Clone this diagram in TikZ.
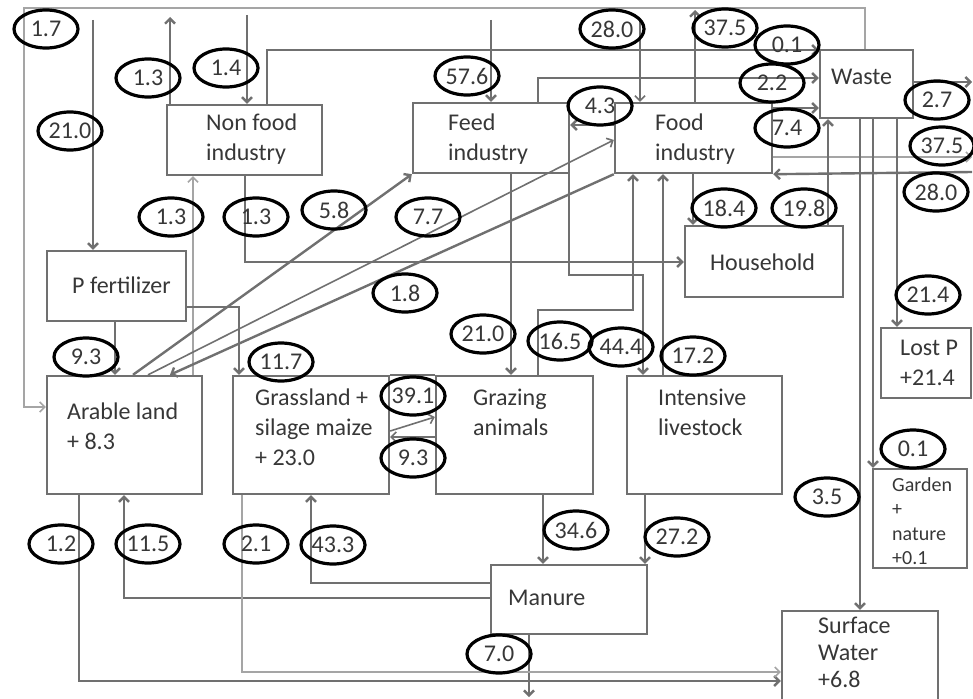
\documentclass[tikz,border=0pt]{standalone}
\usepackage{fontspec}
\setmainfont{Carlito}
\usetikzlibrary{arrows.meta,shapes.geometric}
\definecolor{lc}{RGB}{112,112,112}
\definecolor{llc}{RGB}{165,165,165}
\definecolor{tc}{RGB}{55,55,55}
\begin{document}
\begin{tikzpicture}[x=1pt,y=-1pt,
  box/.style={draw=lc,line width=2.4pt,inner sep=0pt,rectangle},
  boxline/.style={draw=lc,line width=2.4pt},
  lab/.style={ellipse,draw=black,line width=3.2pt,minimum width=64pt,minimum height=38pt,inner sep=0pt,text=tc,font=\fontsize{24}{24}\selectfont},
  txt/.style={anchor=west,align=left,inner sep=0pt,text=tc,font=\fontsize{24}{30}\selectfont},
  flow/.style={draw=lc,line width=2.4pt,-{Straight Barb[length=5pt,width=10pt]}},
  tflow/.style={draw=lc,line width=1.6pt,-{Straight Barb[length=5pt,width=10pt]}},
  lflow/.style={draw=llc,line width=1.5pt,-{Straight Barb[length=5pt,width=10pt]}}
]
\useasboundingbox (0,0) rectangle (973,698);

% boxes
\node[box,minimum width=155pt,minimum height=70pt] (nonfood) at (244.5,140) {};
\node[box,minimum width=156pt,minimum height=70pt] (feed) at (491,138) {};
\node[box,minimum width=157pt,minimum height=70pt] (food) at (693.5,138) {};
\node[box,minimum width=93pt,minimum height=68pt] (waste) at (866.5,84) {};
\node[box,minimum width=158pt,minimum height=71pt] (household) at (764,261.5) {};
\node[box,minimum width=139pt,minimum height=70pt] (pfert) at (116.5,286) {};
\node[box,minimum width=155pt,minimum height=118pt] (arable) at (124.5,435) {};
\node[box,minimum width=156pt,minimum height=118pt] (grass) at (311,435) {};
\node[box,minimum width=157pt,minimum height=118pt] (grazing) at (514.5,435) {};
\node[box,minimum width=155pt,minimum height=118pt] (intensive) at (704.5,435) {};
\node[box,minimum width=90pt,minimum height=70pt] (lostp) at (926,363) {};
\node[box,minimum width=94pt,minimum height=99pt] (garden) at (920,518.5) {};
\node[box,minimum width=156pt,minimum height=69pt] (manure) at (569,599.5) {};
\node[box,minimum width=156pt,minimum height=110pt] (surface) at (860,666) {};
\draw[boxline] (grass.north east) -- (grazing.north west);

% box texts
\node[txt] (nonfoodT) at (206,139) {Non food\\industry};
\node[txt] (feedT) at (448,139) {Feed\\industry};
\node[txt] (foodT) at (655,139) {Food\\industry};
\node[txt] (wasteT) at (831,77) {Waste};
\node[txt] (householdT) at (710,262) {Household};
\node[txt] (pfertT) at (72,285) {P fertilizer};
\node[txt] (arableT) at (67,426) {Arable land\\+ 8.3};
\node[txt] (grassT) at (255,427) {Grassland +\\silage maize\\+ 23.0};
\node[txt] (grazingT) at (473,412) {Grazing\\animals};
\node[txt] (intensiveT) at (658,412) {Intensive\\livestock};
\node[txt] (manureT) at (508,598) {Manure};
\node[txt] (lostpT) at (900,363) {Lost P\\+21.4};
\node[txt,font=\fontsize{20}{24.5}\selectfont] (gardenT) at (892,521) {Garden\\+\\nature\\+0.1};
\node[txt,font=\fontsize{24}{27}\selectfont,anchor=north west] (surfaceT) at (818,617) {Surface\\Water\\+6.8};

% free ends
\coordinate (c17) at (865,8);
\coordinate (c17b) at (24,8);
\coordinate (i210) at (93,20);
\coordinate (e13) at (170,17);
\coordinate (i14) at (247,15);
\coordinate (i576) at (491,20);
\coordinate (i280) at (640,20);
\coordinate (e375) at (695,10);
\coordinate (e27) at (972,82);
\coordinate (e375b) at (972,157);
\coordinate (i280b) at (972,172);
\coordinate (e70) at (529,697);

% connectors
\draw[lflow] (waste.north -| c17) -- (c17) -- (c17b) -- (24,407) -- (arable.west |- 0,407);
\draw[flow] (i210) -- (pfert.north -| i210);
\draw[flow] (nonfood.north -| e13) -- (e13);
\draw[flow] (i14) -- (nonfood.north -| i14);
\draw[flow] (nonfood.north -| 267,0) -- (267,50) -- (waste.west |- 0,50);
\draw[flow] (i576) -- (feed.north -| i576);
\draw[flow] (feed.north -| 538,0) -- (538,78) -- (waste.west |- 0,78);
\draw[tflow] (i280) -- (food.north -| i280);
\draw[flow] (food.west |- 0,125) -- (feed.east |- 0,125);
\draw[flow] (food.north -| e375) -- (e375);
\draw[flow] (food.east |- 0,108) -- (waste.west |- 0,108);
\draw[flow] (waste.east |- e27) -- (e27);
\draw[lflow] (food.east |- e375b) -- (e375b);
\draw[flow] (i280b) -- (food.south east);
\draw[flow] (food.south -| 693,0) -- (household.north -| 693,0);
\draw[flow] (household.north -| 828,0) -- (waste.south -| 828,0);
\draw[flow] (waste.south -| 897,0) -- (lostp.north -| 897,0);
\draw[flow] (waste.south -| 873,0) -- (garden.north -| 873,0);
\draw[flow] (waste.south -| 860,0) -- (surface.north -| 860,0);
\draw[flow] (nonfood.south -| 245,0) -- (245,262) -- (household.west |- 0,262);
\draw[lflow] (arable.north -| 193,0) -- (nonfood.south -| 193,0);
\draw[flow] (arable.north -| 133,0) -- (feed.south west);
\draw[tflow] (arable.north -| 148,0) -- (food.west |- 0,140);
\draw[flow] (food.south west) -- (arable.north -| 170,0);
\draw[flow] (pfert.south -| 115,0) -- (arable.north -| 115,0);
\draw[flow] (pfert.east |- 0,307) -- (239,307) -- (grass.north -| 239,0);
\draw[tflow] (grass.east |- 0,431) -- (grazing.west |- 0,417);
\draw[tflow] (grazing.west |- 0,437) -- (grass.east |- 0,437);
\draw[flow] (feed.south -| 511,0) -- (grazing.north -| 511,0);
\draw[flow] (feed.south -| 569,0) -- (569,275) -- (643,275) -- (intensive.north -| 643,0);
\draw[flow] (grazing.north -| 538,0) -- (538,310) -- (633,310) -- (food.south -| 633,0);
\draw[flow] (intensive.north -| 663,0) -- (food.south -| 663,0);
\draw[flow] (grazing.south -| 543,0) -- (manure.north -| 543,0);
\draw[flow] (intensive.south -| 645,0) -- (manure.north -| 645,0);
\draw[flow] (manure.west |- 0,583) -- (311,583) -- (grass.south -| 311,0);
\draw[flow] (manure.west |- 0,598) -- (124,598) -- (arable.south -| 124,0);
\draw[flow] (manure.south -| e70) -- (e70);
\draw[flow] (arable.south -| 79,0) -- (79,681) -- (surface.west |- 0,681);
\draw[lflow] (grass.south -| 242,0) -- (242,672) -- (surface.west |- 0,672);

% flow labels
\node[lab] (l17) at (46,29) {1.7};
\node[lab] (l13a) at (148,78) {1.3};
\node[lab] (l14) at (226,68) {1.4};
\node[lab] (l210a) at (70,131) {21.0};
\node[lab] (l13b) at (171,217) {1.3};
\node[lab] (l13c) at (256,217) {1.3};
\node[lab] (l58) at (334,210) {5.8};
\node[lab] (l77) at (428,217) {7.7};
\node[lab] (l576) at (467,76) {57.6};
\node[lab] (l280a) at (612,29) {28.0};
\node[lab] (l43) at (600,106) {4.3};
\node[lab] (l375a) at (725,28) {37.5};
\node[lab] (l01a) at (787,45) {0.1};
\node[lab] (l22) at (772,83) {2.2};
\node[lab] (l74) at (787,128) {7.4};
\node[lab] (l27) at (937,100) {2.7};
\node[lab] (l375b) at (942,146) {37.5};
\node[lab] (l280b) at (936,192) {28.0};
\node[lab] (l184) at (724,208) {18.4};
\node[lab] (l198) at (804,208) {19.8};
\node[lab] (l18) at (405,293) {1.8};
\node[lab] (l210b) at (483,334) {21.0};
\node[lab] (l165) at (560,341) {16.5};
\node[lab] (l444) at (621,347) {44.4};
\node[lab] (l172) at (693,356) {17.2};
\node[lab] (l93a) at (86,357) {9.3};
\node[lab] (l117) at (281,362) {11.7};
\node[lab] (l391) at (413,396) {39.1};
\node[lab] (l93b) at (413,458) {9.3};
\node[lab] (l214) at (928,295) {21.4};
\node[lab] (l01b) at (913,449) {0.1};
\node[lab] (l35) at (827,497) {3.5};
\node[lab] (l272) at (677,537) {27.2};
\node[lab] (l346) at (576,530) {34.6};
\node[lab] (l12) at (61,544) {1.2};
\node[lab] (l115) at (148,544) {11.5};
\node[lab] (l21) at (256,544) {2.1};
\node[lab] (l433) at (333,545) {43.3};
\node[lab] (l70) at (499,654) {7.0};
\end{tikzpicture}
\end{document}
